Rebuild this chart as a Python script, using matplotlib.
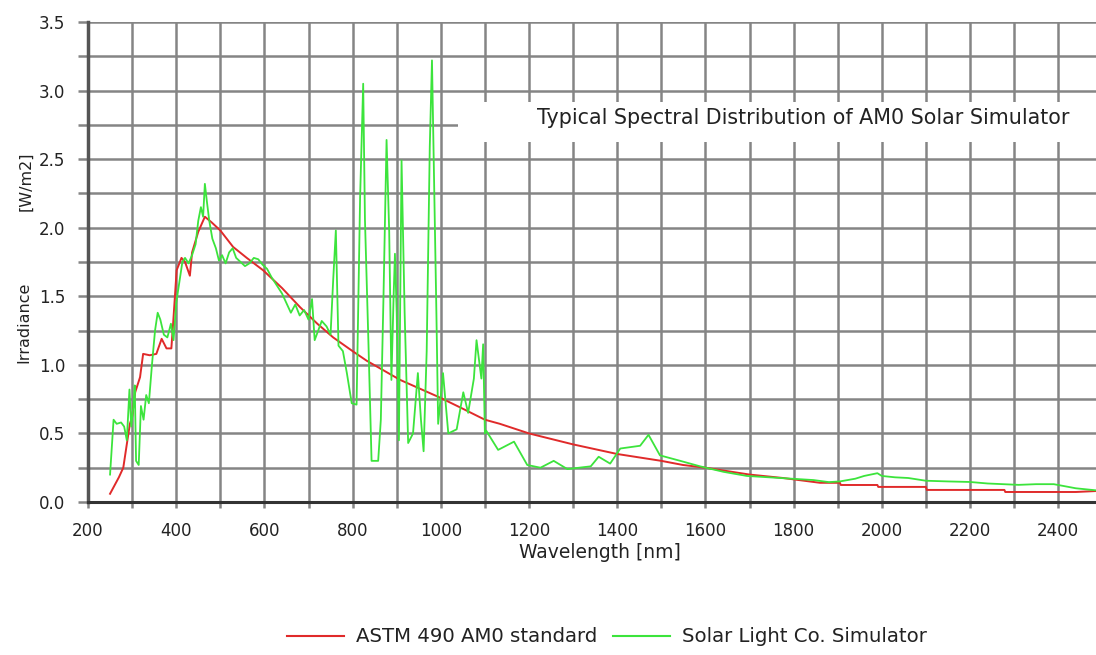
import matplotlib
matplotlib.use("Agg")
import matplotlib.pyplot as plt
from matplotlib.lines import Line2D
from matplotlib.patches import Rectangle
import numpy as np

# ASTM 490 AM0 standard
astm_wl = [250, 260, 270, 280, 287, 295, 300, 307, 318, 325, 340, 355, 367, 378, 389, 393,
           401, 412, 420, 431, 436, 450, 465, 480, 500, 529, 560, 597, 640, 681, 720, 756,
           800, 832, 870, 908, 950, 999, 1050, 1100, 1134, 1200, 1300, 1400, 1500, 1549,
           1600, 1700, 1776, 1860, 1905, 1907, 1990, 1992, 2100, 2102, 2278, 2280, 2440, 2486]
astm_irr = [0.06, 0.12, 0.18, 0.25, 0.40, 0.57, 0.62, 0.80, 0.91, 1.08, 1.07, 1.08, 1.19, 1.12, 1.12, 1.30,
            1.69, 1.78, 1.75, 1.65, 1.82, 1.97, 2.08, 2.04, 1.98, 1.86, 1.78, 1.69, 1.56, 1.42, 1.30, 1.20,
            1.10, 1.03, 0.96, 0.89, 0.83, 0.76, 0.68, 0.60, 0.57, 0.50, 0.42, 0.35, 0.30, 0.27,
            0.25, 0.20, 0.175, 0.14, 0.14, 0.124, 0.124, 0.11, 0.11, 0.088, 0.088, 0.073, 0.073, 0.08]

# Solar Light Co. Simulator
sim_wl = [250, 258, 265, 275, 282, 288, 294, 298, 303, 306, 309, 315, 320, 326, 332, 338, 345, 352,
          358, 364, 372, 380, 388, 394, 400, 408, 414, 420, 428, 436, 444, 450, 456, 461, 465, 470,
          475, 482, 490, 497, 504, 512, 520, 528, 536, 546, 556, 566, 576, 586, 596, 606, 616, 628,
          640, 650, 660, 670, 680, 690, 700, 708, 714, 722, 730, 741, 750, 756, 762, 768, 778, 787,
          798, 809, 817, 824, 828, 836, 843, 858, 864, 870, 877, 883, 888, 893, 896, 900, 905, 911,
          918, 926, 937, 948, 955, 961, 968, 975, 980, 985, 990, 994, 1005, 1017, 1036, 1051, 1062,
          1075, 1081, 1092, 1096, 1100, 1103, 1130, 1166, 1196, 1226, 1256, 1287, 1340, 1358, 1384,
          1407, 1452, 1471, 1497, 1543, 1588, 1641, 1694, 1770, 1845, 1880, 1905, 1940, 1960, 1990,
          2000, 2030, 2060, 2100, 2150, 2200, 2240, 2310, 2350, 2390, 2440, 2486]
sim_irr = [0.20, 0.60, 0.57, 0.58, 0.55, 0.45, 0.82, 0.55, 0.70, 0.85, 0.30, 0.27, 0.70, 0.60, 0.78,
           0.72, 1.00, 1.25, 1.38, 1.33, 1.22, 1.20, 1.30, 1.18, 1.45, 1.62, 1.75, 1.78, 1.74, 1.80,
           1.88, 2.05, 2.15, 2.08, 2.32, 2.18, 2.05, 1.92, 1.85, 1.76, 1.80, 1.74, 1.82, 1.85, 1.78,
           1.75, 1.72, 1.74, 1.78, 1.77, 1.73, 1.70, 1.64, 1.58, 1.52, 1.45, 1.38, 1.44, 1.36, 1.40,
           1.33, 1.48, 1.18, 1.25, 1.32, 1.28, 1.22, 1.62, 1.98, 1.14, 1.10, 0.94, 0.72, 0.71, 2.22,
           3.05, 2.06, 1.15, 0.30, 0.30, 0.60, 1.49, 2.64, 1.97, 0.89, 1.50, 1.81, 1.38, 0.45, 2.49,
           1.38, 0.43, 0.50, 0.94, 0.60, 0.37, 1.10, 2.59, 3.22, 2.30, 1.38, 0.57, 0.94, 0.50, 0.53,
           0.80, 0.65, 0.90, 1.18, 0.90, 1.15, 0.50, 0.52, 0.38, 0.44, 0.27, 0.25, 0.30, 0.24, 0.26,
           0.33, 0.28, 0.39, 0.41, 0.49, 0.34, 0.30, 0.26, 0.22, 0.19, 0.175, 0.16, 0.145, 0.15, 0.17,
           0.19, 0.21, 0.19, 0.18, 0.175, 0.155, 0.15, 0.146, 0.135, 0.125, 0.13, 0.13, 0.10, 0.085]

x_ticks = [200, 400, 600, 800, 1000, 1200, 1400, 1600, 1800, 2000, 2200, 2400]
y_ticks = [0.0, 0.5, 1.0, 1.5, 2.0, 2.5, 3.0, 3.5]
title_text = "Typical Spectral Distribution of AM0 Solar Simulator"
legend_labels = ["ASTM 490 AM0 standard", "Solar Light Co. Simulator"]

RED = "#e02a2a"
GREEN = "#3ce43c"
GRID = "#858585"
TXT = "#222222"

W, H = 1096, 655
fig = plt.figure(figsize=(W / 100, H / 100), dpi=100)
fig.patch.set_facecolor("white")
ax = fig.add_axes([88 / W, (H - 502) / H, (W - 88) / W, 480 / H])
ax.set_xlim(200, 200 + (W - 88) / 0.441)
ax.set_ylim(0, 3.5)

ax.set_xticks(x_ticks)
ax.set_xticks(np.arange(300, 2500, 200), minor=True)
ax.set_yticks(y_ticks)
ax.set_yticks(np.arange(0.25, 3.5, 0.5), minor=True)
ax.set_xticklabels([str(v) for v in x_ticks])
ax.set_yticklabels([f"{v:.1f}" for v in y_ticks])
ax.tick_params(which="both", direction="out", width=1.8, color=GRID,
               labelsize=12, labelcolor=TXT)
ax.tick_params(axis="x", which="both", length=4.5, pad=10)
ax.tick_params(axis="y", which="both", length=7.2, pad=9)
ax.grid(True, which="both", color=GRID, linewidth=1.8)
ax.set_axisbelow(True)
for s in ["top", "right"]:
    ax.spines[s].set_visible(False)
ax.spines["left"].set_color("#555555")
ax.spines["left"].set_linewidth(2.5)
ax.spines["bottom"].set_color("#333333")
ax.spines["bottom"].set_linewidth(2.2)

ax.plot(astm_wl, astm_irr, color=RED, linewidth=1.4, zorder=3)
ax.plot(sim_wl, sim_irr, color=GREEN, linewidth=1.3, zorder=4)

# white box for annotation
ax.add_patch(Rectangle((1039, 2.624), 2000, 0.29, facecolor="white", edgecolor="none", zorder=2.5))
ax.text(1218, 2.80, title_text, fontsize=14.9, color=TXT, va="center", ha="left", zorder=5)

fig.text(600 / W, 1 - 553 / H, "Wavelength [nm]", fontsize=13.5, color=TXT, ha="center", va="center")
fig.text(24 / W, 1 - 322 / H, "Irradiance", fontsize=11.5, color=TXT, rotation=90, ha="center", va="center")
fig.text(26 / W, 1 - 181 / H, "[W/m2]", fontsize=11.5, color=TXT, rotation=90, ha="center", va="center")

handles = [Line2D([], [], color=RED, linewidth=1.5), Line2D([], [], color=GREEN, linewidth=1.5)]
fig.legend(handles, legend_labels, loc="center", bbox_to_anchor=(607 / W, 1 - 637 / H), ncol=2,
           frameon=False, fontsize=14.2, handlelength=2.9, handletextpad=0.6, columnspacing=0.8,
           labelcolor=TXT)

fig.savefig("out.png", dpi=100, facecolor="white")
